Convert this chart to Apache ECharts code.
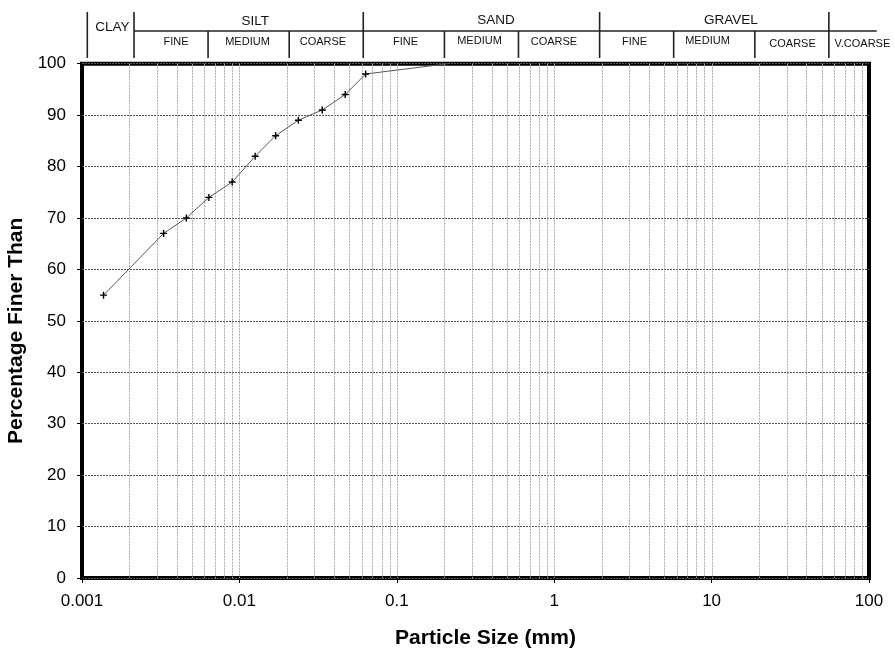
<!DOCTYPE html>
<html>
<head>
<meta charset="utf-8">
<title>Particle Size Distribution</title>
<script src="https://cdn.jsdelivr.net/npm/echarts@6/dist/echarts.min.js"></script>
<style>
  html, body { margin: 0; padding: 0; background: #fff; }
  #chart { width: 895px; height: 650px; }
</style>
</head>
<body>
<div id="chart"></div>
<script>
// Grading curve: particle size (mm) vs percentage finer
const particleSize = [0.00137, 0.0033, 0.0046, 0.0064, 0.009, 0.0126, 0.017, 0.0237, 0.0336, 0.047, 0.0634, 0.212];
const percentFiner = [55, 67, 70, 74, 77, 82, 86, 89, 91, 94, 98, 100];

// Axis tick labels
const xTickLabels = ['0.001', '0.01', '0.1', '1', '10', '100'];
const yTickLabels = ['0', '10', '20', '30', '40', '50', '60', '70', '80', '90', '100'];

// Classification band boundaries (mm)
const majorBounds = [0.001, 0.002, 0.06, 2, 60];
const minorBounds = [0.006, 0.02, 0.2, 0.6, 6, 20];
const headerRuleEnd = 122;

// Soil classes and where their names sit (mm)
const groupNames = ['CLAY', 'SILT', 'SAND', 'GRAVEL'];
const groupAt = [0.00145, 0.0121, 0.43, 14];
const subNames = ['FINE', 'MEDIUM', 'COARSE', 'FINE', 'MEDIUM', 'COARSE', 'FINE', 'MEDIUM', 'COARSE', 'V.COARSE'];
const subAt = [0.00373, 0.01077, 0.033, 0.1123, 0.3365, 1.016, 3.36, 9.91, 35, 98.6];

// Log-cycle gridlines at 1..9 x each decade
const logGrid = [];
for (let d = -3; d < 2; d++) {
  for (let m = 1; m <= 9; m++) {
    if (d === -3 && m === 1) continue;
    logGrid.push(+(m * Math.pow(10, d)).toPrecision(3));
  }
}

const FONT = "'Liberation Sans', Arial, Helvetica, sans-serif";

// Header rows: y offsets in pixels below the header top
const ROW_TOP = 4, ROW_MID = 23, ROW_BOTTOM = 50;
const GROUP_Y = [19, 13, 12, 12];
const SUB_Y = [34, 34, 34, 34, 33, 34, 34, 33, 36, 36];

const headerRules = [];
majorBounds.forEach(b => headerRules.push([b, ROW_TOP, b, ROW_BOTTOM]));
minorBounds.forEach(b => headerRules.push([b, ROW_MID, b, ROW_BOTTOM]));
headerRules.push([0.002, ROW_MID, headerRuleEnd, ROW_MID]);

const headerTexts = [];
groupNames.forEach((n, i) => headerTexts.push([groupAt[i], GROUP_Y[i], n, 13.5]));
subNames.forEach((n, i) => headerTexts.push([subAt[i], SUB_Y[i], n, 11]));

const chart = echarts.init(document.getElementById('chart'), null, { renderer: 'canvas' });

const option = {
  animation: false,
  backgroundColor: '#fff',
  grid: [
    {
      left: 82, right: 26, top: 63.7, bottom: 72,
      containLabel: false, outerBoundsMode: 'none',
      show: true, borderColor: '#000', borderWidth: 4, backgroundColor: 'transparent'
    },
    { left: 87.3, right: 31.7, top: 8, height: 50, containLabel: false, outerBoundsMode: 'none', show: false }
  ],
  xAxis: [
    {
      type: 'log', logBase: 10, min: 0.001, max: 100, gridIndex: 0,
      name: 'Particle Size (mm)', nameLocation: 'middle', nameGap: 50,
      nameTextStyle: { fontFamily: FONT, fontSize: 21, fontWeight: 'bold', color: '#000', padding: [0, 0, 0, 20] },
      axisLine: { show: false },
      axisTick: { show: true, length: 5, lineStyle: { color: '#000', width: 1 } },
      axisLabel: {
        fontFamily: FONT, fontSize: 17, color: '#000', margin: 15,
        formatter: v => xTickLabels[Math.round(Math.log10(v)) + 3]
      },
      splitLine: { show: false }
    },
    {
      type: 'log', logBase: 10, min: 0.001, max: 100, gridIndex: 1, show: false
    }
  ],
  yAxis: [
    {
      type: 'value', min: 0, max: 100, interval: 10, gridIndex: 0,
      name: 'Percentage Finer Than', nameLocation: 'middle', nameGap: 50,
      nameTextStyle: { fontFamily: FONT, fontSize: 21, fontWeight: 'bold', color: '#000', padding: [0, 20, 0, 0] },
      axisLine: { show: false },
      axisTick: { show: true, length: 5, lineStyle: { color: '#000', width: 1 } },
      axisLabel: {
        fontFamily: FONT, fontSize: 17, color: '#000', margin: 16,
        formatter: v => yTickLabels[Math.round(v / 10)]
      },
      splitLine: { show: true, lineStyle: { color: '#555', width: 1, type: [2, 1] } }
    },
    {
      type: 'value', min: 0, max: 50, inverse: true, gridIndex: 1, show: false
    }
  ],
  series: [
    {
      // vertical log-cycle gridlines
      type: 'custom', xAxisIndex: 0, yAxisIndex: 0, z: 1, silent: true,
      data: logGrid.map(v => [v]),
      encode: { x: 0 },
      renderItem: (params, api) => {
        const top = api.coord([api.value(0), 100]);
        const bot = api.coord([api.value(0), 0]);
        return {
          type: 'line',
          shape: { x1: Math.round(top[0]) + 0.5, y1: top[1], x2: Math.round(bot[0]) + 0.5, y2: bot[1] },
          style: { stroke: '#aaa', lineWidth: 1, lineDash: [2, 1] }
        };
      }
    },
    {
      type: 'line', xAxisIndex: 0, yAxisIndex: 0, z: 5,
      data: particleSize.map((s, i) => ({
        value: [s, percentFiner[i]],
        symbol: i === particleSize.length - 1 ? 'none' : 'path://M-0.2,-1H0.2V-0.2H1V0.2H0.2V1H-0.2V0.2H-1V-0.2H-0.2Z'
      })),
      symbolSize: 7,
      showAllSymbol: true,
      itemStyle: { color: '#000' },
      lineStyle: { color: '#555', width: 1 },
      clip: false
    },
    {
      // classification header rules
      type: 'custom', xAxisIndex: 1, yAxisIndex: 1, silent: true, clip: false,
      data: headerRules,
      encode: { x: [0, 2], y: [1, 3] },
      renderItem: (params, api) => {
        const a = api.coord([api.value(0), api.value(1)]);
        const b = api.coord([api.value(2), api.value(3)]);
        return {
          type: 'line',
          shape: { x1: a[0], y1: a[1], x2: b[0], y2: b[1] },
          style: { stroke: '#222', lineWidth: 1.6 }
        };
      }
    },
    {
      // classification header names
      type: 'custom', xAxisIndex: 1, yAxisIndex: 1, silent: true, clip: false,
      data: headerTexts,
      encode: { x: 0, y: 1 },
      renderItem: (params, api) => {
        const item = headerTexts[params.dataIndex];
        const p = api.coord([item[0], item[1]]);
        return {
          type: 'text',
          x: p[0], y: p[1],
          style: {
            text: item[2], fill: '#111', font: item[3] + 'px ' + FONT,
            align: 'center', verticalAlign: 'middle'
          }
        };
      }
    }
  ]
};

chart.setOption(option);
</script>
</body>
</html>
